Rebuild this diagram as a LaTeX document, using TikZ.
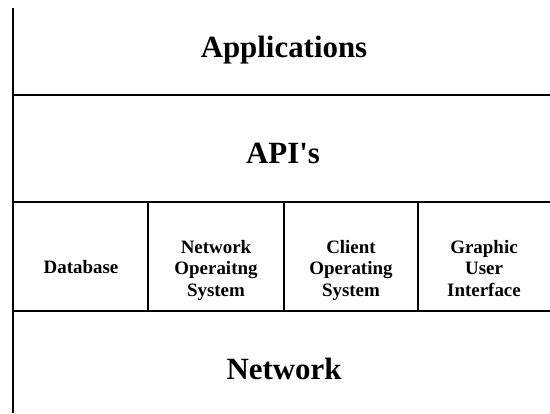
\documentclass[tikz,border=0pt]{standalone}
\usepackage{fontspec}
\setmainfont{Liberation Serif}
\begin{document}
\begin{tikzpicture}[x=1bp,y=-1bp,
  rule/.style={line width=2bp,black},
  layer/.style={font=\fontsize{31}{35}\selectfont\bfseries,inner sep=0pt,anchor=base},
  module/.style={font=\fontsize{19}{21.5}\selectfont\bfseries,align=center,inner sep=0pt,anchor=center}]
  \useasboundingbox (0,0) rectangle (550,413);
  % frame corners
  \coordinate (lt) at (13,8);
  \coordinate (lb) at (13,413);
  \coordinate (a1) at (13,95);   \coordinate (b1) at (550,95);
  \coordinate (a2) at (13,202);  \coordinate (b2) at (550,202);
  \coordinate (a3) at (13,311);  \coordinate (b3) at (550,311);
  % column dividers of the middle band
  \foreach \x/\n in {148/d1,284/d2,418/d3}{
    \coordinate (\n t) at (\x,202);
    \coordinate (\n b) at (\x,311);
  }
  \draw[rule] (lt) -- (lb);
  \draw[rule] (a1) -- (b1);
  \draw[rule] (a2) -- (b2);
  \draw[rule] (a3) -- (b3);
  \draw[rule] (d1t) -- (d1b);
  \draw[rule] (d2t) -- (d2b);
  \draw[rule] (d3t) -- (d3b);
  % layer labels
  \node[layer] (apps) at (284,57) {Applications};
  \node[layer] (api)  at (283,163) {API\textquotesingle s};
  \node[layer] (net)  at (284,379) {Network};
  % modules (struts keep the three-line boxes the same height)
  \node[module] (db)  at (81,267) {Database};
  \node[module] (nos) at (216,270.5) {\strut Network\\Operaitng\\System\strut};
  \node[module] (cos) at (351,270.5) {\strut Client\\Operating\\System\strut};
  \node[module] (gui) at (484,270.5) {\strut Graphic\\User\\Interface\strut};
\end{tikzpicture}
\end{document}
